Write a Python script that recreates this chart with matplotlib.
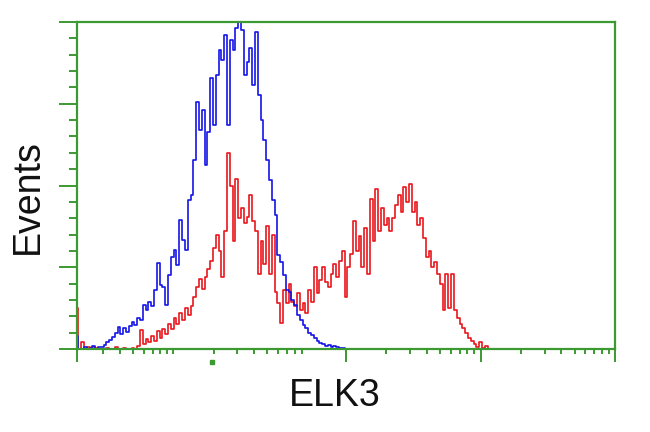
import numpy as np
import matplotlib
matplotlib.use('Agg')
import matplotlib.pyplot as plt

# histogram counts per channel (48 channels per decade), % of max
blue_counts = [4, 0, 0, 0.5, 0, 0.3, 0.8, 0, 0.5, 0.6,
               1.2, 2.1, 2.8, 3.7, 4.9, 6.7, 4.6, 6.4, 5.2, 7.0,
               8.3, 7.3, 9.5, 8.9, 13.5, 11.9, 14.4, 13.1, 18.0, 26.3,
               19.6, 19.0, 13.5, 22.6, 28.1, 30.3, 25.7, 39.4, 33.3, 30.3,
               45.6, 47.1, 57.8, 75.5, 67.0, 73.1, 56.3, 66.4, 82.9, 68.5,
               83.8, 91.4, 88.4, 96.0, 68.5, 94.5, 91.4, 98.2, 100, 97.6,
               83.8, 87.8, 92.0, 80.7, 96.9, 77.7, 70.0, 63.9, 57.8, 51.7,
               45.6, 41.0, 28.7, 26.6, 22.6, 18.0, 17.4, 15.0, 13.5, 10.4,
               8.9, 7.3, 6.4, 4.9, 4.3, 3.4, 2.4, 1.8, 1.5, 0.9,
               1.2, 0.6, 0.9, 0.6, 0.3, 0.3, 0]

red_counts = [12.5, 0, 2, 0, 0.5, 0, 0.6, 0.3, 0, 0,
              0, 0.3, 0, 0, 0.5, 0, 0, 0.3, 0, 0,
              0.3, 0, 1.0, 5.8, 1.5, 3.0, 2.0, 4.0, 2.5, 5.5,
              3.5, 6.0, 4.5, 7.5, 6.0, 9.5, 7.5, 11.0, 9.0, 12.5,
              10.5, 13.0, 16.0, 19.0, 21.5, 18.5, 22.0, 24.5, 27.0, 31.0,
              35.0, 30.0, 22.0, 36.0, 60.0, 50.0, 33.0, 52.0, 40.0, 43.0,
              38.5, 40.5, 47.0, 39.0, 36.0, 23.0, 33.0, 26.0, 37.5, 23.0,
              35.0, 17.5, 14.0, 8.0, 18.0, 14.0, 20.0, 14.5, 13.0, 17.0,
              12.0, 14.0, 11.0, 18.0, 14.5, 25.0, 17.0, 21.0, 25.0, 20.5,
              19.0, 23.0, 26.0, 22.0, 27.0, 30.0, 16.0, 25.0, 29.0, 39.0,
              30.0, 34.5, 25.0, 37.0, 23.0, 46.0, 33.0, 49.0, 36.0, 43.0,
              38.0, 40.0, 36.0, 40.0, 44.0, 47.0, 42.0, 49.5, 45.0, 50.5,
              42.0, 45.0, 38.0, 40.0, 34.0, 28.0, 30.0, 25.0, 26.5, 23.0,
              20.0, 12.0, 23.0, 12.5, 23.0, 12.0, 9.5, 7.5, 6.5, 5.0,
              3.5, 2.5, 1.5, 0.5, 2.0, 0.3, 0.8, 0]

channels_per_decade = 48

# axis ticks
x_major = [1, 100, 1000, 10000]
x_minor = [1.56, 2.08, 2.6, 3.13, 3.65, 4.17, 4.69, 5.21,
           10.4, 15.6, 20.8, 26.0, 31.3, 36.5, 41.7, 46.9,
           200, 300, 400, 500, 600, 700, 800, 900,
           2000, 3000, 4000, 5000, 6000, 7000, 8000, 9000]
y_major = [0, 25, 50, 75, 100]
y_minor = [5, 10, 15, 20, 30, 35, 40, 45, 55, 60, 65, 70, 80, 85, 90, 95]

green = '#3c9a32'

blue_x = 10 ** (np.arange(len(blue_counts)) / channels_per_decade)
red_x = 10 ** (np.arange(len(red_counts)) / channels_per_decade)

fig = plt.figure(figsize=(6.5, 4.32), dpi=100)
ax = fig.add_axes([77 / 650, 83 / 432, 538 / 650, 327 / 432])

ax.plot(red_x, red_counts, color='#e8161c', lw=1.2, drawstyle='steps-mid')
ax.plot(blue_x, blue_counts, color='#1414e6', lw=1.2, drawstyle='steps-mid')

ax.set_xscale('log')
ax.set_xlim(1, 10000)
ax.set_ylim(0, 100)
ax.set_xticks(x_major)
ax.set_xticks(x_minor, minor=True)
ax.set_yticks(y_major)
ax.set_yticks(y_minor, minor=True)
ax.tick_params(which='both', labelbottom=False, labelleft=False)
ax.tick_params(axis='x', which='major', direction='out', length=9.4, width=1.4, color=green)
ax.tick_params(axis='x', which='minor', direction='out', length=3.6, width=1.4, color=green)
ax.tick_params(axis='y', which='major', direction='out', length=13, width=1.4, color=green)
ax.tick_params(axis='y', which='minor', direction='out', length=5.8, width=1.4, color=green)
for s in ax.spines.values():
    s.set_color(green)
    s.set_linewidth(1.6)

# the odd dot under the 10^1 position
ax.plot([10], [-0.04], 's', ms=2.2, color=green, clip_on=False,
        transform=ax.get_xaxis_transform())

fig.text(27.5 / 650, 1 - 197 / 432, 'Events', rotation=90, ha='center', va='center',
         fontsize=27, family='Liberation Sans', color='#111111')
fig.text(335 / 650, 1 - 396 / 432, 'ELK3', ha='center', va='center',
         fontsize=27, family='Liberation Sans', color='#111111')

plt.savefig('out.png', dpi=100)
